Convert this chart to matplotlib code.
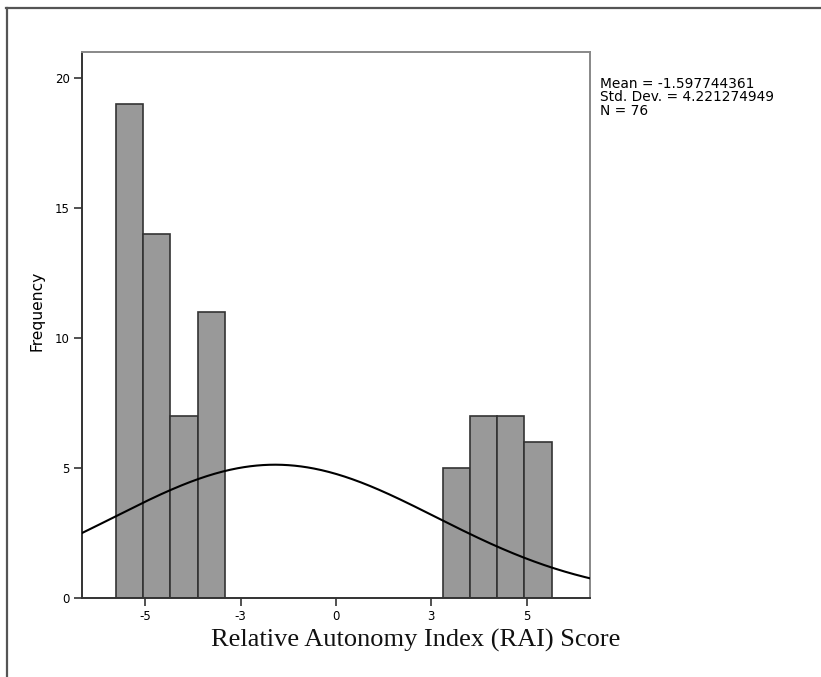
import numpy as np
import matplotlib
matplotlib.use("Agg")
import matplotlib.pyplot as plt
from matplotlib.lines import Line2D

# ---- data ----
counts = [19, 14, 7, 11, 0, 0, 0, 0, 0, 0, 0, 0, 5, 7, 7, 6]
bin_start = -5.767
bin_width = 0.7138
mean = -1.597744361
std = 4.221274949
n = 76
xtick_pos = [-5, -2.5, 0, 2.5, 5]
xtick_labels = ["-5", "-3", "0", "3", "5"]
ytick_pos = [0, 5, 10, 15, 20]
x_range = (-6.65, 6.66)
y_range = (0, 21)

fig = plt.figure(figsize=(8.21, 6.77), dpi=100)
fig.patch.set_facecolor("white")
ax = fig.add_axes([82.3 / 821, 1 - 598 / 677, (590 - 82.3) / 821, (598 - 52) / 677])

edges = bin_start + bin_width * np.arange(len(counts) + 1)
lefts = edges[:-1]
for l, c in zip(lefts, counts):
    if c > 0:
        ax.bar(l, c, width=bin_width, align="edge", color="#999999",
               edgecolor="#333333", linewidth=1.2, zorder=2)

xs = np.linspace(x_range[0], x_range[1], 400)
ys = n * bin_width / (std * np.sqrt(2 * np.pi)) * np.exp(-0.5 * ((xs - mean) / std) ** 2)
ax.plot(xs, ys, color="black", linewidth=1.5, zorder=3)

ax.set_xlim(*x_range)
ax.set_ylim(*y_range)
ax.set_xticks(xtick_pos)
ax.set_xticklabels(xtick_labels)
ax.set_yticks(ytick_pos)
ax.tick_params(axis="both", direction="out", length=6, width=1.2, color="#333333",
               labelsize=8.5, pad=3)
for side in ["left", "bottom"]:
    ax.spines[side].set_color("#333333")
    ax.spines[side].set_linewidth(1.4)
for side in ["top", "right"]:
    ax.spines[side].set_color("#888888")
    ax.spines[side].set_linewidth(1.4)

fig.text(416 / 821, 1 - 640 / 677, "Relative Autonomy Index (RAI) Score",
         family="Liberation Serif", fontsize=19, ha="center", va="center", color="#111111")
fig.text(37 / 821, 1 - 311 / 677, "Frequency", family="DejaVu Sans", fontsize=11.2,
         rotation=90, ha="center", va="center")

stats = ["Mean = -1.597744361", "Std. Dev. = 4.221274949", "N = 76"]
for i, s in enumerate(stats):
    fig.text(600 / 821, 1 - (88 + 13.4 * i) / 677, s, fontsize=9.9,
             family="DejaVu Sans", ha="left", va="baseline")

# outer frame (top and left)
fig.add_artist(Line2D([6 / 821, 1.0], [1 - 7.5 / 677, 1 - 7.5 / 677],
                      color="#555555", linewidth=1.6, transform=fig.transFigure))
fig.add_artist(Line2D([6.5 / 821, 6.5 / 821], [1 - 7.5 / 677, 0.0],
                      color="#555555", linewidth=1.6, transform=fig.transFigure))

fig.savefig("out.png", dpi=100)
